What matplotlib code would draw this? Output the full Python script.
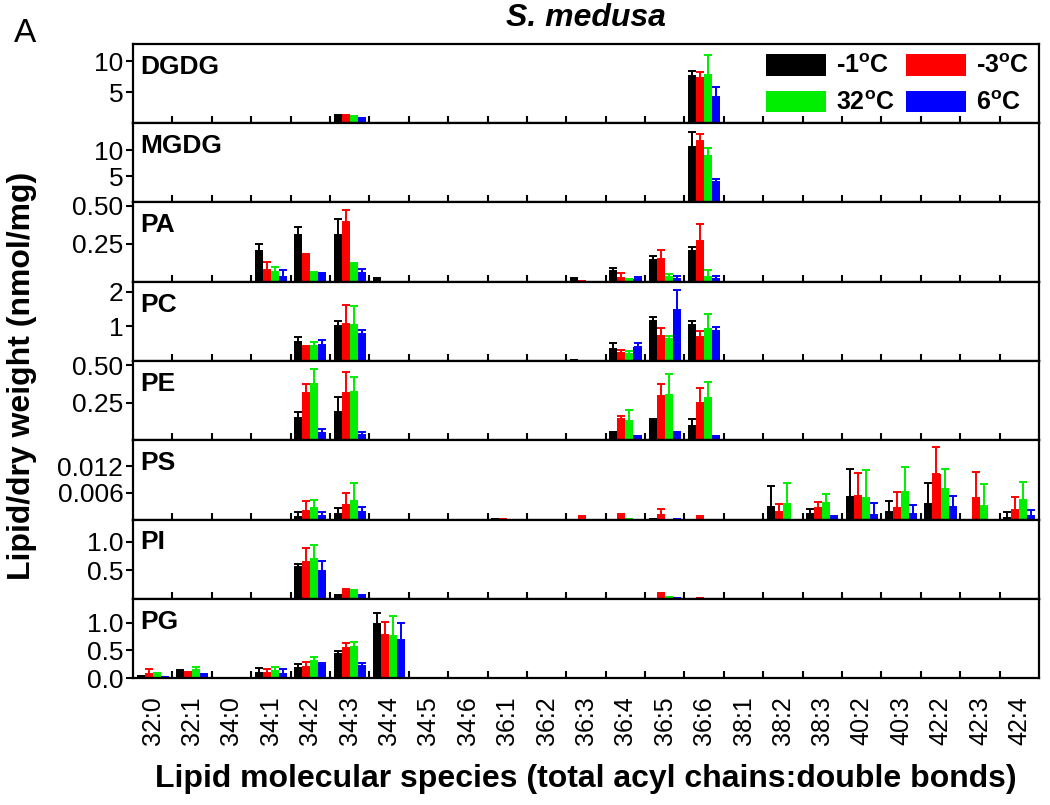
import numpy as np
import matplotlib
matplotlib.use("Agg")
import matplotlib.pyplot as plt
from matplotlib.patches import Patch

plt.rcParams['font.family'] = ['Liberation Sans', 'DejaVu Sans']
plt.rcParams['mathtext.fontset'] = 'custom'
plt.rcParams['mathtext.rm'] = 'Liberation Sans'
plt.rcParams['mathtext.bf'] = 'Liberation Sans:bold'

species = ["32:0", "32:1", "34:0", "34:1", "34:2", "34:3", "34:4", "34:5", "34:6",
           "36:1", "36:2", "36:3", "36:4", "36:5", "36:6", "38:1", "38:2", "38:3",
           "40:2", "40:3", "42:2", "42:3", "42:4"]
temps = ["-1$^{\\mathbf{o}}$C", "-3$^{\\mathbf{o}}$C", "32$^{\\mathbf{o}}$C", "6$^{\\mathbf{o}}$C"]
colors = ["#000000", "#ff0000", "#00ee00", "#0000ff"]
classes = ["DGDG", "MGDG", "PA", "PC", "PE", "PS", "PI", "PG"]

# rows: -1C, -3C, 32C, 6C ; columns follow `species`
DGDG_mean = [
    [0, 0, 0, 0, 0.15, 1.2, 0, 0, 0, 0, 0, 0.05, 0.1, 0.1, 7.6, 0, 0, 0, 0, 0, 0, 0, 0],
    [0, 0, 0, 0, 0.2, 1.2, 0, 0, 0, 0, 0, 0.1, 0.1, 0.1, 7.3, 0, 0, 0, 0, 0, 0, 0, 0],
    [0, 0, 0, 0, 0.15, 1.0, 0, 0, 0, 0, 0, 0.05, 0.05, 0.05, 7.8, 0, 0, 0, 0, 0, 0, 0, 0],
    [0, 0, 0, 0, 0.2, 0.8, 0, 0, 0, 0, 0, 0.05, 0.05, 0.1, 4.2, 0, 0, 0, 0, 0, 0, 0, 0],
]
DGDG_err = [
    [0, 0, 0, 0, 0, 0.2, 0, 0, 0, 0, 0, 0, 0, 0, 0.9, 0, 0, 0, 0, 0, 0, 0, 0],
    [0, 0, 0, 0, 0, 0.1, 0, 0, 0, 0, 0, 0, 0, 0, 0.9, 0, 0, 0, 0, 0, 0, 0, 0],
    [0, 0, 0, 0, 0, 0.1, 0, 0, 0, 0, 0, 0, 0, 0, 3.2, 0, 0, 0, 0, 0, 0, 0, 0],
    [0, 0, 0, 0, 0, 0.1, 0, 0, 0, 0, 0, 0, 0, 0, 1.6, 0, 0, 0, 0, 0, 0, 0, 0],
]
MGDG_mean = [
    [0, 0, 0, 0, 0, 0.1, 0, 0, 0, 0, 0, 0, 0.05, 0.1, 10.6, 0, 0, 0, 0, 0, 0, 0, 0],
    [0, 0, 0, 0, 0, 0.15, 0, 0, 0.3, 0, 0, 0, 0.1, 0.15, 11.7, 0, 0, 0, 0, 0, 0, 0, 0],
    [0, 0, 0, 0, 0, 0.15, 0, 0, 0, 0, 0, 0, 0.05, 0.05, 9.0, 0, 0, 0, 0, 0, 0, 0, 0],
    [0, 0, 0, 0, 0, 0.1, 0, 0, 0.05, 0, 0, 0, 0.05, 0.1, 4.0, 0, 0, 0, 0, 0, 0, 0, 0],
]
MGDG_err = [
    [0, 0, 0, 0, 0, 0, 0, 0, 0, 0, 0, 0, 0, 0, 2.9, 0, 0, 0, 0, 0, 0, 0, 0],
    [0, 0, 0, 0, 0, 0, 0, 0, 0, 0, 0, 0, 0, 0, 1.5, 0, 0, 0, 0, 0, 0, 0, 0],
    [0, 0, 0, 0, 0, 0, 0, 0, 0, 0, 0, 0, 0, 0, 1.4, 0, 0, 0, 0, 0, 0, 0, 0],
    [0, 0, 0, 0, 0, 0, 0, 0, 0, 0, 0, 0, 0, 0, 0.6, 0, 0, 0, 0, 0, 0, 0, 0],
]
PA_mean = [
    [0, 0, 0, 0.20, 0.31, 0.31, 0.01, 0, 0, 0, 0.004, 0.02, 0.072, 0.145, 0.20, 0, 0, 0, 0, 0, 0, 0, 0],
    [0, 0, 0, 0.074, 0.18, 0.39, 0.008, 0, 0.005, 0, 0.004, 0.012, 0.026, 0.149, 0.27, 0, 0, 0, 0, 0, 0, 0, 0],
    [0, 0, 0, 0.066, 0.064, 0.107, 0, 0, 0.005, 0, 0.005, 0.008, 0.024, 0.028, 0.03, 0, 0, 0, 0, 0, 0, 0, 0],
    [0, 0, 0, 0.033, 0.053, 0.057, 0, 0, 0.005, 0, 0, 0.005, 0.018, 0.02, 0.018, 0, 0, 0, 0, 0, 0, 0, 0],
]
PA_err = [
    [0, 0, 0, 0.05, 0.05, 0.10, 0.015, 0, 0, 0, 0, 0.005, 0.02, 0.022, 0.028, 0, 0, 0, 0, 0, 0, 0, 0],
    [0, 0, 0, 0.053, 0.005, 0.08, 0, 0, 0, 0, 0, 0, 0.031, 0.057, 0.11, 0, 0, 0, 0, 0, 0, 0, 0],
    [0, 0, 0, 0.034, 0.003, 0.018, 0, 0, 0, 0, 0, 0, 0, 0.025, 0.044, 0, 0, 0, 0, 0, 0, 0, 0],
    [0, 0, 0, 0.041, 0.003, 0.026, 0, 0, 0, 0, 0, 0, 0.012, 0.015, 0.017, 0, 0, 0, 0, 0, 0, 0, 0],
]
PC_mean = [
    [0, 0, 0, 0.01, 0.54, 1.02, 0, 0, 0, 0.02, 0.02, 0.06, 0.35, 1.17, 1.04, 0, 0.01, 0.02, 0, 0, 0, 0, 0],
    [0, 0, 0, 0.02, 0.37, 1.06, 0.01, 0, 0, 0.03, 0.02, 0.04, 0.23, 0.72, 0.70, 0, 0.01, 0.04, 0, 0, 0, 0, 0],
    [0, 0, 0, 0.02, 0.43, 1.04, 0.01, 0, 0, 0.02, 0.02, 0.04, 0.21, 0.63, 0.92, 0, 0, 0.03, 0, 0, 0, 0, 0],
    [0, 0, 0, 0, 0.46, 0.78, 0, 0, 0, 0, 0.01, 0.02, 0.41, 1.46, 0.88, 0, 0, 0.02, 0, 0, 0, 0, 0],
]
PC_err = [
    [0, 0, 0, 0, 0.15, 0.13, 0, 0, 0, 0, 0, 0, 0.18, 0.10, 0.13, 0, 0, 0, 0, 0, 0, 0, 0],
    [0, 0, 0, 0, 0.07, 0.55, 0, 0, 0, 0, 0, 0, 0.09, 0.24, 0.17, 0, 0, 0, 0, 0, 0, 0, 0],
    [0, 0, 0, 0, 0.13, 0.55, 0, 0, 0, 0, 0, 0, 0.09, 0.09, 0.44, 0, 0, 0, 0, 0, 0, 0, 0],
    [0, 0, 0, 0, 0.16, 0.13, 0, 0, 0, 0, 0, 0, 0.10, 0.58, 0.10, 0, 0, 0, 0, 0, 0, 0, 0],
]
PE_mean = [
    [0, 0, 0, 0, 0.151, 0.189, 0, 0, 0, 0, 0.003, 0.005, 0.06, 0.127, 0.096, 0, 0.003, 0.003, 0.003, 0.003, 0.003, 0.006, 0.003],
    [0, 0, 0, 0, 0.315, 0.315, 0.005, 0, 0, 0, 0.003, 0.01, 0.144, 0.291, 0.251, 0.004, 0.004, 0.004, 0.004, 0.004, 0.004, 0.006, 0.004],
    [0, 0, 0, 0, 0.373, 0.318, 0.005, 0, 0, 0, 0.003, 0.008, 0.127, 0.298, 0.282, 0.004, 0.004, 0.004, 0.004, 0.004, 0.004, 0.008, 0.004],
    [0, 0, 0, 0, 0.051, 0.038, 0, 0, 0, 0, 0, 0, 0.038, 0.062, 0.033, 0, 0, 0, 0, 0, 0, 0, 0],
]
PE_err = [
    [0, 0, 0, 0, 0.036, 0.096, 0, 0, 0, 0, 0, 0, 0, 0.013, 0.044, 0, 0, 0, 0, 0, 0, 0, 0],
    [0, 0, 0, 0, 0.06, 0.136, 0, 0, 0, 0, 0, 0, 0.018, 0.082, 0.098, 0, 0, 0, 0, 0, 0, 0, 0],
    [0, 0, 0, 0, 0.098, 0.104, 0, 0, 0, 0, 0, 0, 0.071, 0.142, 0.107, 0, 0, 0, 0, 0, 0, 0, 0],
    [0, 0, 0, 0, 0.022, 0.017, 0, 0, 0, 0, 0, 0, 0, 0, 0, 0, 0, 0, 0, 0, 0, 0, 0],
]
PS_mean = [
    [0, 0, 0, 0, 0.0005, 0.0013, 0, 0, 0, 0.0003, 0, 0, 0.0002, 0.0003, 0, 0, 0.0028, 0.0013, 0.0050, 0.0016, 0.0035, 0, 0.0004],
    [0, 0, 0, 0, 0.0020, 0.0032, 0, 0, 0, 0.0003, 0, 0.0004, 0.0007, 0.0011, 0.0004, 0, 0.0017, 0.0026, 0.0054, 0.0027, 0.0102, 0.0048, 0.0022],
    [0, 0, 0, 0, 0.0026, 0.0041, 0.0002, 0, 0, 0, 0, 0.0002, 0.0004, 0.0002, 0, 0, 0.0034, 0.0038, 0.0049, 0.0063, 0.0070, 0.0031, 0.0043],
    [0, 0, 0, 0, 0.0007, 0.0016, 0, 0, 0, 0, 0, 0, 0.0002, 0.0004, 0, 0.0001, 0, 0.0004, 0.0010, 0.0013, 0.0029, 0, 0.0008],
]
PS_err = [
    [0, 0, 0, 0, 0.0012, 0.0013, 0, 0, 0, 0, 0, 0, 0, 0, 0, 0, 0.0047, 0.0011, 0.0065, 0.0026, 0.0048, 0, 0.0013],
    [0, 0, 0, 0, 0.0021, 0.0028, 0, 0, 0, 0, 0, 0.0004, 0.0006, 0.0013, 0.0004, 0, 0.0019, 0.0013, 0.0052, 0.0034, 0.0062, 0.0059, 0.0028],
    [0, 0, 0, 0, 0.0019, 0.0042, 0, 0, 0, 0, 0, 0, 0, 0, 0, 0, 0.0048, 0.0019, 0.0062, 0.0055, 0.0043, 0.0049, 0.0041],
    [0, 0, 0, 0, 0.0010, 0.0013, 0, 0, 0, 0, 0, 0, 0, 0, 0, 0, 0, 0.0004, 0.0027, 0.0019, 0.0025, 0, 0.0014],
]
PI_mean = [
    [0, 0, 0, 0, 0.56, 0.088, 0, 0, 0, 0, 0.005, 0.005, 0, 0.015, 0.01, 0, 0, 0, 0, 0, 0, 0, 0],
    [0, 0, 0, 0.01, 0.64, 0.128, 0, 0, 0, 0, 0.005, 0.005, 0, 0.058, 0.035, 0, 0, 0, 0, 0, 0, 0, 0],
    [0, 0, 0, 0, 0.70, 0.11, 0, 0, 0, 0, 0.005, 0.005, 0, 0.05, 0.01, 0, 0, 0, 0, 0, 0, 0, 0],
    [0, 0, 0, 0, 0.48, 0.075, 0, 0, 0, 0, 0.005, 0.005, 0, 0.035, 0, 0, 0, 0, 0, 0, 0, 0, 0],
]
PI_err = [
    [0, 0, 0, 0, 0.05, 0, 0, 0, 0, 0, 0, 0, 0, 0, 0, 0, 0, 0, 0, 0, 0, 0, 0],
    [0, 0, 0, 0, 0.25, 0.042, 0, 0, 0, 0, 0, 0, 0, 0.047, 0, 0, 0, 0, 0, 0, 0, 0, 0],
    [0, 0, 0, 0, 0.235, 0.035, 0, 0, 0, 0, 0, 0, 0, 0, 0, 0, 0, 0, 0, 0, 0, 0, 0],
    [0, 0, 0, 0, 0.19, 0, 0, 0, 0, 0, 0, 0, 0, 0, 0, 0, 0, 0, 0, 0, 0, 0, 0],
]
PG_mean = [
    [0.06, 0.125, 0.01, 0.095, 0.173, 0.44, 0.976, 0, 0, 0, 0, 0, 0, 0, 0, 0, 0, 0, 0, 0, 0, 0, 0],
    [0.07, 0.09, 0.01, 0.095, 0.202, 0.54, 0.774, 0, 0, 0, 0, 0, 0, 0, 0, 0, 0, 0, 0, 0, 0, 0, 0],
    [0.05, 0.143, 0.015, 0.125, 0.30, 0.56, 0.75, 0, 0, 0, 0, 0, 0, 0, 0, 0, 0, 0, 0, 0, 0, 0, 0],
    [0.036, 0.083, 0.01, 0.077, 0.226, 0.22, 0.69, 0, 0, 0, 0, 0, 0, 0, 0, 0, 0, 0, 0, 0, 0, 0, 0],
]
PG_err = [
    [0, 0.018, 0, 0.078, 0.071, 0.048, 0.19, 0, 0, 0, 0, 0, 0, 0, 0, 0, 0, 0, 0, 0, 0, 0, 0],
    [0.085, 0.023, 0, 0.06, 0.078, 0.097, 0.232, 0, 0, 0, 0, 0, 0, 0, 0, 0, 0, 0, 0, 0, 0, 0, 0],
    [0.045, 0.053, 0, 0.065, 0.087, 0.083, 0.375, 0, 0, 0, 0, 0, 0, 0, 0, 0, 0, 0, 0, 0, 0, 0, 0],
    [0, 0, 0, 0.083, 0.042, 0.048, 0.298, 0, 0, 0, 0, 0, 0, 0, 0, 0, 0, 0, 0, 0, 0, 0, 0],
]

means = [DGDG_mean, MGDG_mean, PA_mean, PC_mean, PE_mean, PS_mean, PI_mean, PG_mean]
errs = [DGDG_err, MGDG_err, PA_err, PC_err, PE_err, PS_err, PI_err, PG_err]
ylims = [(0, 12.8), (0, 15.2), (0, 0.52), (0, 2.29), (0, 0.527), (0, 0.0179), (0, 1.39), (0, 1.43)]
yticks = [[5, 10], [5, 10], [0.25, 0.50], [1, 2], [0.25, 0.50], [0.006, 0.012], [0.5, 1.0], [0.0, 0.5, 1.0]]
yticklabels = [["5", "10"], ["5", "10"], ["0.25", "0.50"], ["1", "2"], ["0.25", "0.50"],
               ["0.006", "0.012"], ["0.5", "1.0"], ["0.0", "0.5", "1.0"]]

fig = plt.figure(figsize=(10.5, 8.05), dpi=100)
left, right = 133 / 1050, 1039 / 1050
top, bottom = 1 - 44 / 805, 1 - 678 / 805
ph = (top - bottom) / 8

n = len(species)
x = np.arange(n)
bw = 0.205
axes = []
for i, cls in enumerate(classes):
    ax = fig.add_axes([left, top - (i + 1) * ph, right - left, ph])
    axes.append(ax)
    for j in range(4):
        m = np.array(means[i][j], dtype=float)
        e = np.array(errs[i][j], dtype=float)
        pos = x + (j - 1.5) * bw
        ax.bar(pos, m, width=bw, color=colors[j], edgecolor='none', zorder=2)
        mask = e > 0
        if mask.any():
            ax.errorbar(pos[mask], m[mask], yerr=[np.zeros(mask.sum()), e[mask]],
                        fmt='none', ecolor=colors[j], elinewidth=1.4, capsize=3,
                        capthick=1.4, zorder=3)
    ax.set_xlim(-0.5, n - 0.5)
    ax.set_ylim(*ylims[i])
    ax.set_yticks(yticks[i])
    ax.set_yticklabels(yticklabels[i], fontsize=19)
    ax.set_xticks(np.arange(n - 1) + 0.5)
    ax.set_xticklabels([])
    ax.tick_params(axis='x', which='major', direction='in', length=5, width=1.5)
    ax.tick_params(axis='y', which='major', direction='out', length=5, width=1.5, pad=2)
    for s in ax.spines.values():
        s.set_linewidth(1.6)
    ax.text(0.008, 0.71, cls, transform=ax.transAxes, fontsize=19, fontweight='bold',
            ha='left', va='center')

axb = axes[-1]
axb.set_xticks(x, minor=True)
axb.set_xticklabels(species, minor=True, rotation=90, fontsize=18)
axb.tick_params(axis='x', which='minor', length=0, pad=13)

handles = [Patch(facecolor=c, edgecolor='none') for c in colors]
order = [0, 2, 1, 3]
axes[0].legend([handles[k] for k in order], [temps[k] for k in order], ncol=2,
               loc='upper right', bbox_to_anchor=(1.0, 1.0),
               frameon=False, prop={'size': 18, 'weight': 'bold'}, handlelength=2.4,
               handleheight=0.95, handletextpad=0.4, columnspacing=0.45, labelspacing=0.5,
               borderaxespad=0.2, borderpad=0.2)

fig.text((left + right) / 2, 1 - 18 / 805, "S. medusa", fontsize=23, fontweight='bold',
         style='italic', ha='center', va='center')
fig.text(25 / 1050, 1 - 33 / 805, "A", fontsize=24, ha='center', va='center')
fig.text(22 / 1050, 1 - 376 / 805, "Lipid/dry weight (nmol/mg)", rotation=90,
         fontsize=23, fontweight='bold', ha='center', va='center')
fig.text((left + right) / 2, 1 - 779 / 805,
         "Lipid molecular species (total acyl chains:double bonds)",
         fontsize=23, fontweight='bold', ha='center', va='center')

fig.savefig("out.png", dpi=100)
